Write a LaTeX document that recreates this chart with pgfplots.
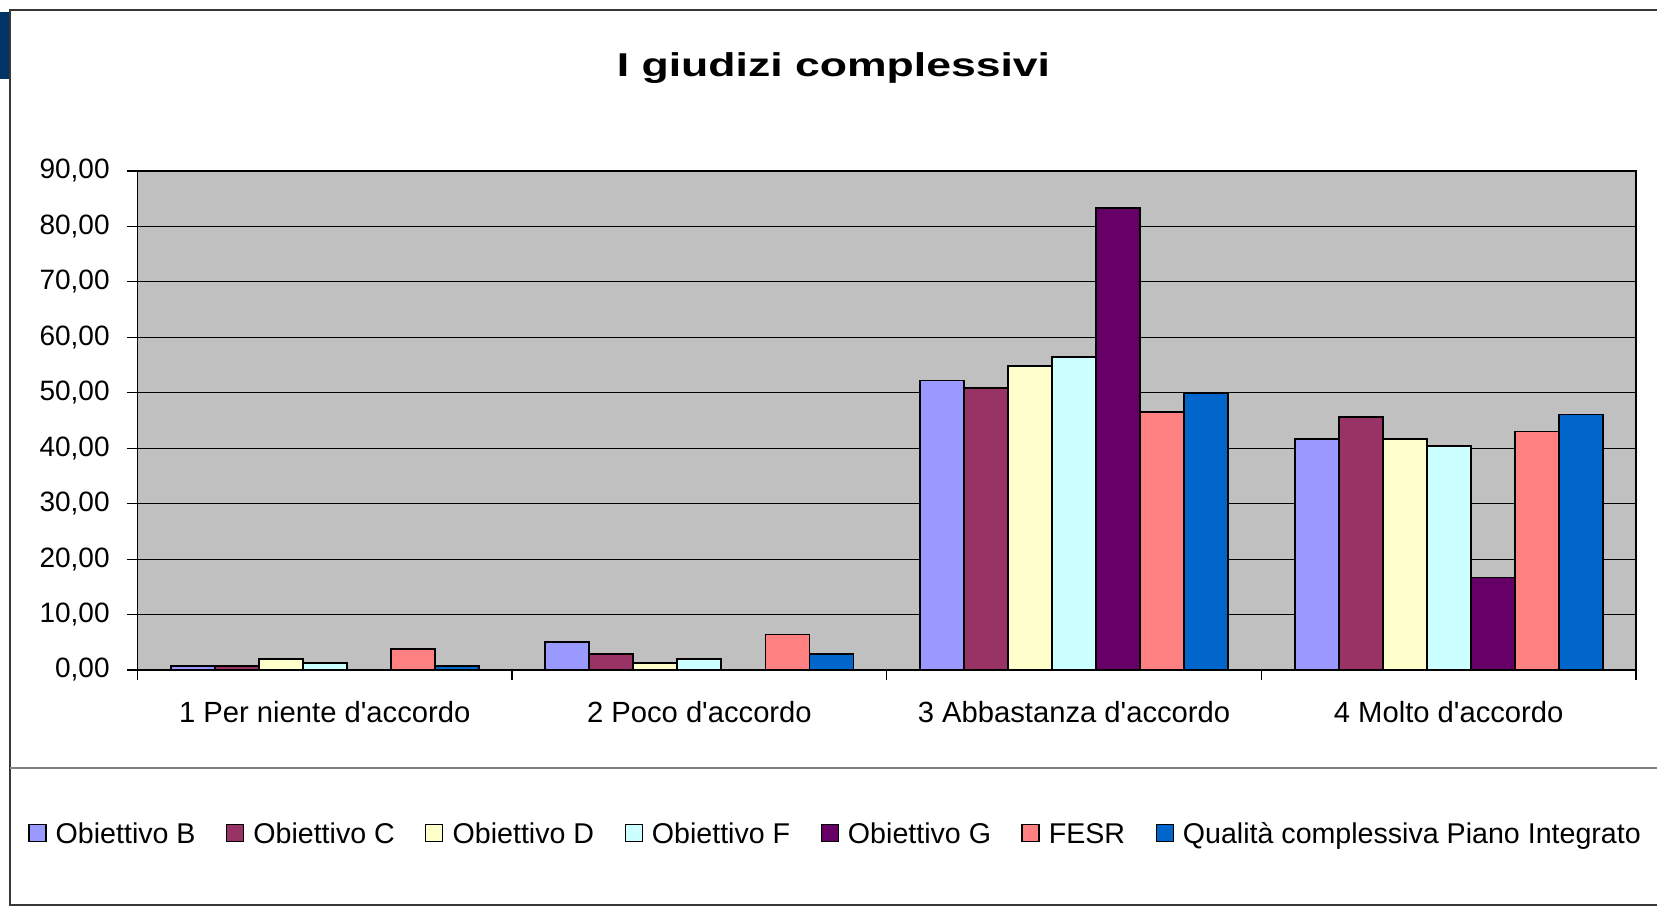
\documentclass[border=0pt]{standalone}
\usepackage{graphicx}
\usepackage{fontspec}
\setmainfont{Liberation Sans}[Ligatures=TeXOff]
\usepackage{pgfplots}
\pgfplotsset{compat=1.18}
\definecolor{cB}{HTML}{9999FF}
\definecolor{cC}{HTML}{993366}
\definecolor{cD}{HTML}{FFFFCC}
\definecolor{cF}{HTML}{CCFFFF}
\definecolor{cG}{HTML}{660066}
\definecolor{cFESR}{HTML}{FF8080}
\definecolor{cQ}{HTML}{0066CC}
\definecolor{bggray}{HTML}{C0C0C0}
\definecolor{slideblue}{HTML}{003366}
\begin{document}
\begin{tikzpicture}
\path[use as bounding box] (0,0) rectangle (828.5pt,453pt);
\clip (0,0) rectangle (828.5pt,453pt);
\fill[slideblue] (0,413.5pt) rectangle (4.5pt,447pt);
\draw[line width=1pt, black!78] (5pt,0.5pt) rectangle (840pt,448pt);
\draw[line width=1pt, black!50] (5pt,69pt) -- (840pt,69pt);
\begin{axis}[
  at={(68.7pt,118pt)}, anchor=south west,
  scale only axis, width=749.3pt, height=249.5pt,
  axis background/.style={fill=bggray},
  axis line style={black, line width=0.6pt},
  ybar=0pt, bar width=0.1175,
  xmin=-0.5, xmax=3.5, ymin=0, ymax=90,
  ytick={0,10,...,90},
  xtick pos=bottom, ytick pos=left,
  ymajorgrids, grid style={black, line width=0.5pt},
  y tick style={black, line width=0.6pt},
  tick align=outside, major tick length=5pt,
  xtick={0,1,2,3},
  x tick style={draw=none},
  xticklabels={1 Per niente d'accordo, 2 Poco d'accordo, 3 Abbastanza d'accordo, 4 Molto d'accordo},
  xticklabel style={font=\fontsize{14.6}{17}\selectfont, anchor=base, inner sep=0pt, yshift=-21.2pt},
  extra x ticks={-0.5,0.5,1.5,2.5,3.5},
  extra x tick labels={},
  extra x tick style={x tick style={draw=black, line width=0.6pt}, tick align=outside, major tick length=5pt, grid=none},
  yticklabel style={font=\fontsize{14}{16}\selectfont, anchor=east, inner sep=0pt, xshift=-8.7pt},
  /pgf/number format/.cd, fixed, fixed zerofill, precision=2, use comma, assume math mode=true,
  /pgfplots/.cd,
  title={\scalebox{1.35}[1]{I giudizi complessivi}},
  title style={at={(0.4645,1.1964)}, anchor=base, yshift=-8pt, font=\bfseries\fontsize{16.5}{18}\selectfont},
  legend columns=7,
  legend style={at={(-0.0728,-0.3267)}, anchor=west, draw=none, fill=none, inner sep=0pt, outer sep=0pt,
    font=\fontsize{14.3}{16}\selectfont,
    nodes={inner sep=0pt, text height=10.2pt, text depth=0pt},
    /tikz/every odd column/.append style={column sep=4.6pt},
    /tikz/every even column/.append style={column sep=15.2pt}},
  legend image code/.code={\draw[#1, line width=0.6pt] (0pt,-4.25pt) rectangle (8.5pt,4.25pt);},
]
\addplot[fill=cB, draw=black, line width=0.9pt] coordinates {(0,0.78) (1,5.1) (2,52.2) (3,41.7)};
\addplot[fill=cC, draw=black, line width=0.9pt] coordinates {(0,0.78) (1,2.94) (2,50.85) (3,45.65)};
\addplot[fill=cD, draw=black, line width=0.9pt] coordinates {(0,2.0) (1,1.27) (2,54.8) (3,41.7)};
\addplot[fill=cF, draw=black, line width=0.9pt] coordinates {(0,1.27) (1,2.0) (2,56.5) (3,40.4)};
\addplot[fill=cG, draw=black, line width=0.9pt] coordinates {(2,83.33) (3,16.67)};
\addplot[fill=cFESR, draw=black, line width=0.9pt] coordinates {(0,3.8) (1,6.4) (2,46.5) (3,43.0)};
\addplot[fill=cQ, draw=black, line width=0.9pt] coordinates {(0,0.78) (1,2.94) (2,50.0) (3,46.1)};
\legend{Obiettivo B, Obiettivo C, Obiettivo D, Obiettivo F, Obiettivo G, FESR, Qualità complessiva Piano Integrato}
\end{axis}
\end{tikzpicture}
\end{document}
